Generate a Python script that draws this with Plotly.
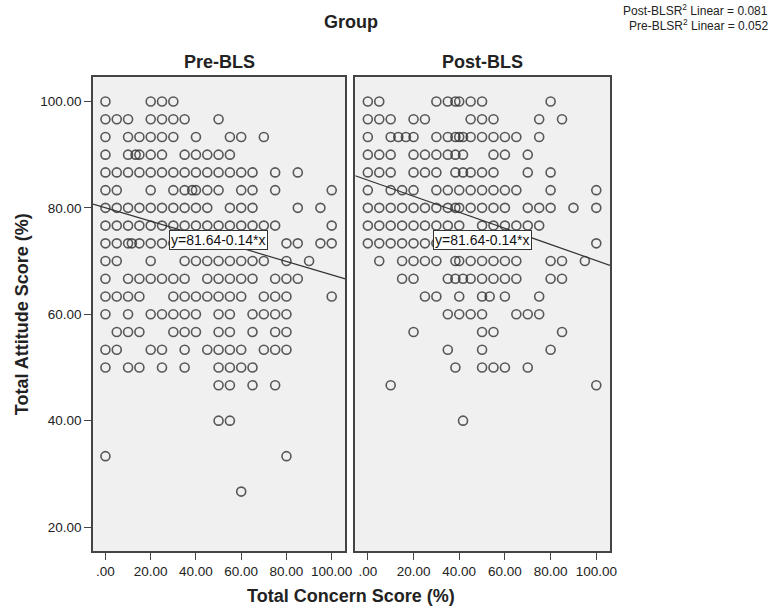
import plotly.graph_objects as go

# Attitude score levels (y) and concern score values (x) per level, per group
levels = [100, 96.67, 93.33, 90, 86.67, 83.33, 80, 76.67, 73.33, 70, 66.67,
          63.33, 60, 56.67, 53.33, 50, 46.67, 43.33, 40, 36.67, 33.33, 30, 26.67]

pre_rows = [
    [0, 20, 25, 30],
    [0, 5, 10, 20, 25, 30, 35, 50],
    [0, 10, 15, 20, 25, 30, 40, 55, 60, 70],
    [0, 10, 13.33, 15, 20, 25, 35, 40, 45, 50, 55],
    [0, 5, 10, 15, 20, 25, 30, 35, 40, 45, 50, 55, 60, 65, 75, 85],
    [0, 5, 20, 30, 35, 38.33, 40, 45, 50, 60, 65, 75, 100],
    [0, 5, 10, 15, 20, 25, 30, 35, 40, 45, 55, 60, 65, 85, 95],
    [0, 5, 10, 15, 20, 25, 30, 35, 40, 45, 50, 55, 60, 65, 70, 75, 100],
    [0, 5, 10, 11.67, 15, 20, 25, 30, 40, 50, 60, 80, 85, 95, 100],
    [0, 5, 20, 35, 40, 45, 50, 55, 60, 65, 70, 80, 90],
    [0, 10, 15, 20, 25, 30, 35, 45, 50, 55, 60, 65, 75, 80, 85],
    [0, 5, 10, 15, 30, 35, 40, 45, 50, 55, 60, 70, 75, 80, 100],
    [0, 10, 20, 25, 30, 35, 40, 50, 55, 65, 70, 75, 80],
    [5, 10, 15, 30, 35, 40, 50, 55, 65, 75, 80],
    [0, 5, 20, 25, 35, 45, 50, 55, 60, 70, 75, 80],
    [0, 10, 15, 25, 35, 50, 55, 60, 65],
    [50, 55, 65, 75],
    [],
    [50, 55],
    [],
    [0, 80],
    [],
    [60],
]

post_rows = [
    [0, 5, 30, 35, 38.33, 40, 45, 50, 80],
    [0, 5, 10, 20, 25, 45, 50, 55, 75, 85],
    [0, 10, 13.33, 16.67, 20, 30, 35, 38.33, 40, 41.67, 45, 50, 55, 60, 65, 75],
    [0, 5, 10, 20, 25, 30, 35, 38.33, 41.67, 55, 60, 70],
    [0, 5, 10, 20, 25, 30, 38.33, 41.67, 45, 50, 55, 70, 80],
    [0, 10, 15, 20, 30, 35, 40, 45, 50, 55, 60, 65, 80, 100],
    [0, 5, 10, 15, 20, 25, 30, 35, 38.33, 40, 45, 50, 55, 60, 70, 75, 80, 90, 100],
    [0, 5, 10, 15, 20, 25, 30, 35, 40, 50, 55, 60, 65, 70, 75],
    [0, 5, 10, 15, 20, 25, 30, 40, 50, 60, 100],
    [5, 15, 20, 25, 30, 38.33, 40, 45, 50, 55, 60, 65, 80, 85, 95],
    [15, 20, 35, 38.33, 41.67, 45, 50, 55, 60, 65, 80, 85],
    [25, 30, 40, 50, 53.33, 60, 75],
    [35, 40, 45, 50, 65, 70, 75],
    [20, 50, 55, 85],
    [35, 50, 80],
    [38.33, 50, 55, 60, 70],
    [10, 100],
    [],
    [41.67],
    [],
    [],
    [],
    [],
]

# Fit lines as drawn (intercept, slope) and labels
pre_fit = [80.0, -0.126]
post_fit = [85.2, -0.151]
fit_label = "y=81.64-0.14*x"
r2_lines = ["Post-BLSR<sup>2</sup> Linear = 0.081", "Pre-BLSR<sup>2</sup> Linear = 0.052"]

x_ticks = [0, 20, 40, 60, 80, 100]
x_ticktext = [".00", "20.00", "40.00", "60.00", "80.00", "100.00"]
y_ticks = [20, 40, 60, 80, 100]
y_ticktext = ["20.00", "40.00", "60.00", "80.00", "100.00"]

X_RANGE = [-5.5, 106]
Y_RANGE = [15.5, 104.6]


def flatten(rows):
    xs, ys = [], []
    for lv, row in zip(levels, rows):
        for v in row:
            xs.append(v)
            ys.append(lv)
    return xs, ys


pre_x, pre_y = flatten(pre_rows)
post_x, post_y = flatten(post_rows)

FONT = "Liberation Sans, Arial, sans-serif"
marker = dict(symbol="circle-open", size=9, color="rgba(45,45,45,0.78)",
              line=dict(width=1.6, color="rgba(45,45,45,0.78)"))

fig = go.Figure()
fig.add_trace(go.Scatter(x=pre_x, y=pre_y, mode="markers", marker=marker,
                         xaxis="x", yaxis="y", showlegend=False, hoverinfo="skip"))
fig.add_trace(go.Scatter(x=post_x, y=post_y, mode="markers", marker=marker,
                         xaxis="x2", yaxis="y2", showlegend=False, hoverinfo="skip"))

for fit, xa, ya in [(pre_fit, "x", "y"), (post_fit, "x2", "y2")]:
    fx = X_RANGE
    fy = [fit[0] + fit[1] * v for v in fx]
    fig.add_trace(go.Scatter(x=fx, y=fy, mode="lines", xaxis=xa, yaxis=ya,
                             line=dict(color="#333333", width=1.2),
                             showlegend=False, hoverinfo="skip"))

axis_common = dict(showline=True, linecolor="#444444", linewidth=1.5, mirror=True,
                   showgrid=False, zeroline=False, ticks="outside", ticklen=7,
                   tickcolor="#444444", tickfont=dict(family=FONT, size=13.5, color="#222222"))

fig.update_layout(
    width=772, height=606,
    margin=dict(l=93, r=162, t=77, b=55),
    paper_bgcolor="white", plot_bgcolor="#F0F0F0",
    font=dict(family=FONT, color="#222222"),
    xaxis=dict(domain=[0, 0.488], range=X_RANGE, tickvals=x_ticks, ticktext=x_ticktext,
               anchor="y", **axis_common),
    xaxis2=dict(domain=[0.5073, 1], range=X_RANGE, tickvals=x_ticks, ticktext=x_ticktext,
                anchor="y2", **axis_common),
    yaxis=dict(domain=[0, 1], range=Y_RANGE, tickvals=y_ticks, ticktext=y_ticktext,
               anchor="x", **axis_common),
    yaxis2=dict(domain=[0, 1], range=Y_RANGE, anchor="x2", showticklabels=False,
                showline=True, linecolor="#444444", linewidth=1.5, mirror=True,
                showgrid=False, zeroline=False, ticks=""),
)

ann = []
# fit labels
for xr, yr in [("x", "y"), ("x2", "y2")]:
    ann.append(dict(x=50, y=74, xref=xr, yref=yr, text=fit_label, showarrow=False,
                    xanchor="center", yanchor="middle",
                    font=dict(family=FONT, size=14, color="#111111"), bgcolor="white",
                    bordercolor="#333333", borderwidth=1, borderpad=1))


def txt(x, y, text, size, **kw):
    d = dict(x=x, y=y, xref="paper", yref="paper", text=text, showarrow=False,
             xanchor="center", yanchor="middle",
             font=dict(family=FONT, size=size, color="#222222"))
    d.update(kw)
    return d


ann.append(txt(0.499, 1.116, "<b>Group</b>", 18))
ann.append(txt(0.244, 1.0316, "<b>Pre-BLS</b>", 18))
ann.append(txt(0.7537, 1.0316, "<b>Post-BLS</b>", 18))
ann.append(txt(0.499, -0.094, "<b>Total Concern Score (%)</b>", 18))
ann.append(txt(-0.137, 0.5, "<b>Total Attitude Score (%)</b>", 18, textangle=-90))
for t, yy in zip(r2_lines, [1.1414, 1.1097]):
    ann.append(txt(1.3095, yy, t, 12, xanchor="right"))
fig.update_layout(annotations=ann)

# remove the default page margin so the figure sits at the window's top-left corner
fig.write_html("out.html", config={"displayModeBar": False},
               post_script="document.body.style.margin='0px';")
